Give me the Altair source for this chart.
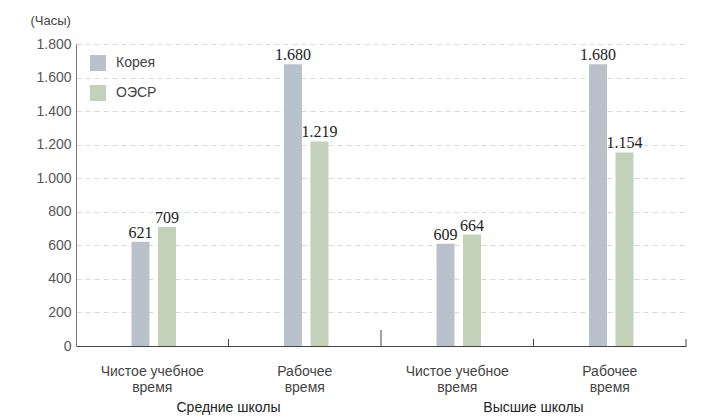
import altair as alt
import pandas as pd

groups = ["Средние школы", "Средние школы", "Высшие школы", "Высшие школы"]
measures = ["Чистое учебное|время", "Рабочее|время", "Чистое учебное|время", "Рабочее|время"]
korea = [621, 1680, 609, 1680]
oecd = [709, 1219, 664, 1154]
series = ["Корея", "ОЭСР"]
colors = ["#b9c2cc", "#c3d1b9"]
y_ticks = [0, 200, 400, 600, 800, 1000, 1200, 1400, 1600, 1800]

keys = [f"{i}|{m}" for i, m in enumerate(measures)]

rows = []
for k, g, a, b in zip(keys, groups, korea, oecd):
    rows.append({"key": k, "group": g, "series": series[0], "value": a})
    rows.append({"key": k, "group": g, "series": series[1], "value": b})
df = pd.DataFrame(rows)

# group labels sit at the boundary between the two categories of each group
grp_df = pd.DataFrame({"key": [keys[1], keys[3]], "group": [groups[0], groups[2]]})
short_ticks = pd.DataFrame({"key": [keys[1], keys[3]]})
tall_tick = pd.DataFrame({"key": [keys[2]]})
end_tick = pd.DataFrame({"key": [keys[3]]})

W, H = 610, 302
FONT = "Liberation Sans"

xscale = alt.Scale(domain=keys, paddingInner=0, paddingOuter=0)
yscale = alt.Scale(domain=[0, 1800], nice=False)
xoff = alt.XOffset("series:N", scale=alt.Scale(domain=series, range=[55.5, 100],
                                                 paddingInner=0.32, paddingOuter=0))

x_axis = alt.Axis(title=None, labelExpr="slice(split(datum.value, '|'), 1)",
                  ticks=False, labelAngle=0, domainColor="#444", domainWidth=1,
                  labelPadding=18, labelFontSize=14, labelColor="#444",
                  labelFont=FONT, labelLineHeight=16, grid=False)
y_axis = alt.Axis(values=y_ticks, labelOverlap=False,
                  labelExpr="replace(format(datum.value, ',d'), ',', '.')",
                  title="(Часы)", titleAngle=0, titleX=-46, titleY=-24,
                  titleAlign="left", titleBaseline="middle", titleFont=FONT,
                  titleFontSize=13, titleFontWeight="normal", titleColor="#444",
                  ticks=False, labelPadding=5, labelFont=FONT, labelFontSize=14,
                  labelColor="#555", domainColor="#777",
                  grid=True, gridDash=[5, 4], gridColor="#d9d9d9")

bars = alt.Chart(df).mark_bar().encode(
    x=alt.X("key:N", scale=xscale, sort=None, axis=x_axis),
    xOffset=xoff,
    y=alt.Y("value:Q", scale=yscale, axis=y_axis),
    color=alt.Color("series:N", scale=alt.Scale(domain=series, range=colors),
                    legend=alt.Legend(title=None, orient="none", legendX=14, legendY=11,
                                      symbolType="square", symbolSize=256, symbolStrokeWidth=0,
                                      rowPadding=14, labelOffset=10, labelFont=FONT,
                                      labelFontSize=14, labelColor="#444", padding=0)),
)

labels = alt.Chart(df).transform_calculate(
    lbl="replace(format(datum.value, ',d'), ',', '.')"
).mark_text(font="Liberation Serif", fontSize=16, color="#222", baseline="bottom", dy=-1).encode(
    x=alt.X("key:N", scale=xscale, sort=None, axis=x_axis),
    xOffset=xoff,
    y=alt.Y("value:Q", scale=yscale, axis=y_axis),
    text="lbl:N",
)

tick_short = alt.Chart(short_ticks).mark_rule(color="#444").encode(
    x=alt.X("key:N", bandPosition=0, scale=xscale, sort=None, axis=x_axis),
    y=alt.value(H), y2=alt.value(H - 7),
)
tick_end = alt.Chart(end_tick).mark_rule(color="#444").encode(
    x=alt.X("key:N", bandPosition=1, scale=xscale, sort=None, axis=x_axis),
    y=alt.value(H), y2=alt.value(H - 7),
)
tick_tall = alt.Chart(tall_tick).mark_rule(color="#444").encode(
    x=alt.X("key:N", bandPosition=0, scale=xscale, sort=None, axis=x_axis),
    y=alt.value(H), y2=alt.value(H - 16),
)
grp_text = alt.Chart(grp_df).mark_text(font=FONT, fontSize=14, color="#222", baseline="middle").encode(
    x=alt.X("key:N", bandPosition=0, scale=xscale, sort=None, axis=x_axis),
    y=alt.value(H + 62),
    text="group:N",
)

chart = alt.layer(bars, labels, tick_short, tick_end, tick_tall, grp_text).properties(
    width=W, height=H, autosize="none", background="white",
    padding={"left": 68, "top": 36, "right": 16, "bottom": 72},
).configure_view(stroke=None)

chart.save("out.html", embed_options={"renderer": "svg", "actions": False})
